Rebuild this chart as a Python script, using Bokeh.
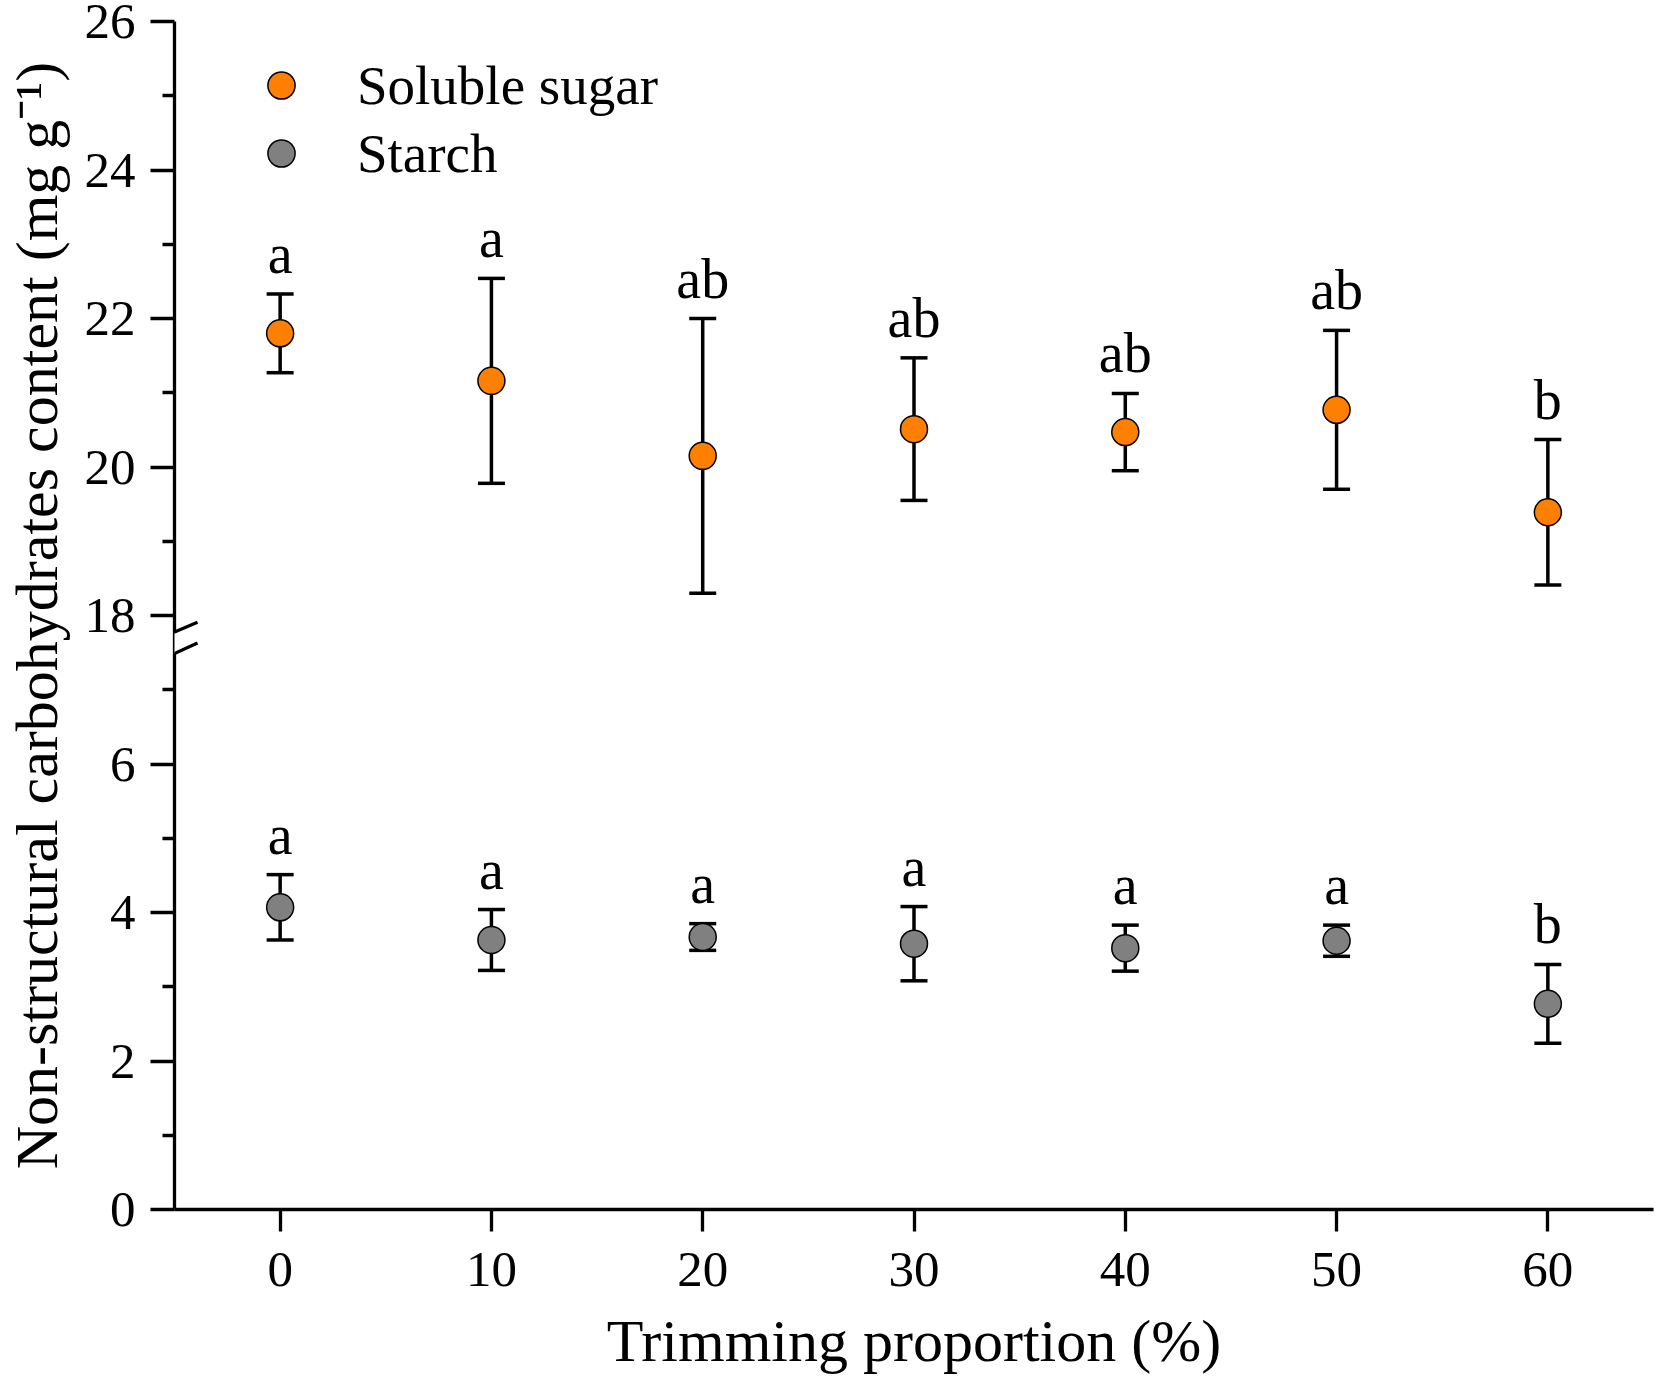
from bokeh.plotting import figure
from bokeh.models import (ColumnDataSource, Range1d, FixedTicker, Whisker, TeeHead,
                          LabelSet, Legend, LegendItem, Arrow)
from bokeh.embed import file_html
from bokeh.resources import INLINE

# ---------------- data ----------------
proportion = [0, 10, 20, 30, 40, 50, 60]
sugar_mean = [21.80, 21.16, 20.15, 20.51, 20.47, 20.77, 19.39]
sugar_err = [0.53, 1.38, 1.85, 0.96, 0.52, 1.07, 0.98]
sugar_letters = ["a", "a", "ab", "ab", "ab", "ab", "b"]

starch_mean = [4.07, 3.63, 3.67, 3.58, 3.52, 3.62, 2.77]
starch_err = [0.44, 0.41, 0.18, 0.50, 0.31, 0.21, 0.53]
starch_letters = ["a", "a", "a", "a", "a", "a", "b"]

x_ticks = [0, 10, 20, 30, 40, 50, 60]
y_tick_values = [0, 2, 4, 6, 18, 20, 22, 24, 26]
y_minor_values = [1, 3, 5, 7, 19, 21, 23, 25]

# broken axis: real values >= 18 are shifted down by GAP
BREAK_AT = 18
GAP = 10

FONT = "Liberation Serif"
SUGAR_COLOR = "#FF8000"
STARCH_COLOR = "#808080"


def to_axis(v):
    return v - GAP if v >= BREAK_AT - 1 else v


def make_source(means, errs, letters):
    return ColumnDataSource(dict(
        x=proportion,
        y=[to_axis(m) for m in means],
        upper=[to_axis(m + e) for m, e in zip(means, errs)],
        lower=[to_axis(m - e) for m, e in zip(means, errs)],
        letter=letters,
    ))


src_sugar = make_source(sugar_mean, sugar_err, sugar_letters)
src_starch = make_source(starch_mean, starch_err, starch_letters)

p = figure(width=1656, height=1378,
           x_range=Range1d(-5, 65), y_range=Range1d(0, 16),
           output_backend="svg", toolbar_location=None,
           min_border_left=174, min_border_right=3,
           min_border_top=21, min_border_bottom=169)
p.outline_line_color = None
p.grid.visible = False
p.background_fill_color = "white"
p.border_fill_color = "white"

# ---------------- axes ----------------
p.xaxis.ticker = FixedTicker(ticks=x_ticks, minor_ticks=[])
p.yaxis.ticker = FixedTicker(ticks=[to_axis(v) for v in y_tick_values],
                             minor_ticks=[to_axis(v) for v in y_minor_values])
p.yaxis.major_label_overrides = {to_axis(v): str(v) for v in y_tick_values}

for ax in (p.xaxis, p.yaxis):
    ax.axis_line_width = 3.3
    ax.axis_line_color = "black"
    ax.major_tick_line_width = 3.3
    ax.minor_tick_line_width = 3.3
    ax.major_tick_line_color = "black"
    ax.minor_tick_line_color = "black"
    ax.major_tick_in = 0
    ax.minor_tick_in = 0
    ax.major_label_text_font = FONT
    ax.major_label_text_font_size = "51px"
    ax.major_label_text_color = "black"
    ax.axis_label_text_font = FONT
    ax.axis_label_text_font_size = "60px"
    ax.axis_label_text_font_style = "normal"
    ax.axis_label_text_color = "black"

p.xaxis.major_tick_out = 22
p.xaxis.minor_tick_out = 0
p.xaxis.major_label_standoff = 21
p.xaxis.axis_label_standoff = 19
p.xaxis.axis_label = "Trimming proportion (%)"

p.yaxis.major_tick_out = 24
p.yaxis.minor_tick_out = 12
p.yaxis.major_label_standoff = 15
p.yaxis.axis_label_standoff = 12
p.yaxis.axis_label = "Non-structural carbohydrates content (mg g\u207b\u00b9)"

# ---------------- error bars ----------------
for src in (src_sugar, src_starch):
    w = Whisker(base="x", upper="upper", lower="lower", source=src,
                dimension="height", line_width=3.5, line_color="black",
                upper_head=TeeHead(size=27, line_width=3.5, line_color="black"),
                lower_head=TeeHead(size=27, line_width=3.5, line_color="black"),
                level="underlay")
    p.add_layout(w)

# ---------------- points ----------------
r_sugar = p.scatter("x", "y", source=src_sugar, size=27, marker="circle",
                    fill_color=SUGAR_COLOR, line_color="black", line_width=1.5)
r_starch = p.scatter("x", "y", source=src_starch, size=27, marker="circle",
                     fill_color=STARCH_COLOR, line_color="black", line_width=1.5)

# ---------------- significance letters ----------------
for src in (src_sugar, src_starch):
    labels = LabelSet(x="x", y="upper", text="letter", source=src,
                      y_offset=21, text_align="center", text_baseline="alphabetic",
                      text_font=FONT, text_font_size="56px", text_color="black")
    p.add_layout(labels)

# ---------------- axis break marks ----------------
x_axis_pos = -5
p.add_layout(Arrow(end=None, x_start=x_axis_pos, y_start=7.49,
                   x_end=x_axis_pos, y_end=7.77,
                   line_color="white", line_width=8))
for y0, y1 in ((7.64, 7.91), (7.34, 7.63)):
    p.add_layout(Arrow(end=None, x_start=x_axis_pos - 1.136, y_start=y0,
                       x_end=x_axis_pos + 1.088, y_end=y1,
                       line_color="black", line_width=3.3))

# ---------------- legend ----------------
legend = Legend(items=[LegendItem(label="Soluble sugar", renderers=[r_sugar]),
                       LegendItem(label="Starch", renderers=[r_starch])],
                location=(73, 1022), glyph_width=68, glyph_height=68,
                spacing=0, padding=0, margin=0, label_standoff=42,
                label_text_font=FONT, label_text_font_size="55px",
                label_text_color="black",
                background_fill_alpha=0, border_line_alpha=0)
p.add_layout(legend)

open("out.html", "w").write(file_html(p, INLINE))
